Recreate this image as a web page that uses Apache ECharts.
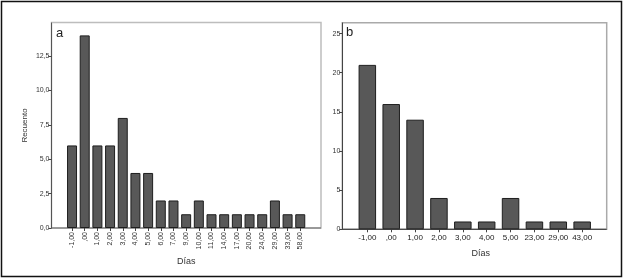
<!DOCTYPE html>
<html>
<head>
<meta charset="utf-8">
<script src="https://cdn.jsdelivr.net/npm/echarts@6/dist/echarts.min.js"></script>
<style>
html,body{margin:0;padding:0;background:#fff;}
#c{width:624px;height:279px;}
</style>
</head>
<body>
<div id="c"></div>
<script>
// Panel a data
const catsA = ['-1,00', ',00', '1,00', '2,00', '3,00', '4,00', '5,00', '6,00', '7,00', '9,00', '10,00', '11,00', '14,00', '17,00', '20,00', '24,00', '29,00', '33,00', '58,00'];
const valsA = [6, 14, 6, 6, 8, 4, 4, 2, 2, 1, 2, 1, 1, 1, 1, 1, 2, 1, 1];
// Panel b data
const catsB = ['-1,00', ',00', '1,00', '2,00', '3,00', '4,00', '5,00', '23,00', '29,00', '43,00'];
const valsB = [21, 16, 14, 4, 1, 1, 4, 1, 1, 1];
// Tick labels
const yTicksA = ['0,0', '2,5', '5,0', '7,5', '10,0', '12,5'];
const yTicksB = ['0', '5', '10', '15', '20', '25'];

const FONT = 'Liberation Sans, Arial, sans-serif';
const chart = echarts.init(document.getElementById('c'));

const barStyle = {color: '#585858', borderColor: '#1e1e1e', borderWidth: 1};

chart.setOption({
  animation: false,
  backgroundColor: '#fff',
  grid: [
    {left: 65.7, right: 317.4, top: 23, bottom: 51},
    {left: 355.4, right: 29.9, top: 23, bottom: 49.7}
  ],
  xAxis: [
    {
      type: 'category', gridIndex: 0, data: catsA,
      axisLine: {show: false},
      axisTick: {show: true, alignWithLabel: true, length: 3, lineStyle: {color: '#444'}},
      axisLabel: {rotate: 90, fontSize: 7, color: '#333', fontFamily: FONT, margin: 4, interval: 0},
      name: 'Días', nameLocation: 'middle', nameGap: 28,
      nameTextStyle: {fontSize: 9, color: '#333', fontFamily: FONT}
    },
    {
      type: 'category', gridIndex: 1, data: catsB,
      axisLine: {show: false},
      axisTick: {show: true, alignWithLabel: true, length: 3, lineStyle: {color: '#444'}},
      axisLabel: {fontSize: 8, color: '#222', fontFamily: FONT, margin: 4, interval: 0},
      name: 'Días', nameLocation: 'middle', nameGap: 20,
      nameTextStyle: {fontSize: 9, color: '#333', fontFamily: FONT, padding: [0, 0, 0, 12]}
    }
  ],
  yAxis: [
    {
      type: 'value', gridIndex: 0, min: 0, max: 14.9, interval: 2.5, offset: 14.2,
      splitLine: {show: false},
      axisLine: {show: true, lineStyle: {color: '#555', width: 1}},
      axisTick: {show: true, length: 3, lineStyle: {color: '#444'}},
      axisLabel: {fontSize: 7, color: '#333', fontFamily: FONT, margin: 2, showMaxLabel: false,
        formatter: (v) => yTicksA[Math.round(v / 2.5)] || ''},
      name: 'Recuento', nameLocation: 'middle', nameGap: 23, nameRotate: 90,
      nameTextStyle: {fontSize: 8, color: '#333', fontFamily: FONT}
    },
    {
      type: 'value', gridIndex: 1, min: 0, max: 26.35, interval: 5, offset: 13,
      splitLine: {show: false},
      axisLine: {show: true, lineStyle: {color: '#444', width: 1}},
      axisTick: {show: true, length: 3, lineStyle: {color: '#444'}},
      axisLabel: {fontSize: 7, color: '#333', fontFamily: FONT, margin: 2, showMaxLabel: false,
        formatter: (v) => yTicksB[Math.round(v / 5)] || ''}
    }
  ],
  series: [
    {type: 'bar', xAxisIndex: 0, yAxisIndex: 0, data: valsA, barWidth: 10, itemStyle: barStyle},
    {type: 'bar', xAxisIndex: 1, yAxisIndex: 1, data: valsB, barWidth: 17.5, itemStyle: barStyle}
  ],
  graphic: [
    {type: 'rect', shape: {x: 1.5, y: 1.5, width: 620, height: 275}, style: {fill: 'none', stroke: '#111', lineWidth: 1.5}, silent: true},
    {type: 'rect', shape: {x: 51.5, y: 22.5, width: 269.5, height: 205.5}, style: {fill: 'none', stroke: '#bdbdbd', lineWidth: 1.5}, silent: true, z: -1},
    {type: 'line', shape: {x1: 51.5, y1: 228, x2: 321, y2: 228}, style: {stroke: '#666', lineWidth: 1}, silent: true},
    {type: 'rect', shape: {x: 342.3, y: 22.7, width: 264.4, height: 206.6}, style: {fill: 'none', stroke: '#aaa', lineWidth: 1.5}, silent: true, z: -1},
    {type: 'line', shape: {x1: 342.3, y1: 229.3, x2: 606.7, y2: 229.3}, style: {stroke: '#333', lineWidth: 1}, silent: true},
    {type: 'text', left: 56, top: 27, style: {text: 'a', fontSize: 13, fill: '#222', fontFamily: FONT}},
    {type: 'text', left: 346, top: 26, style: {text: 'b', fontSize: 13, fill: '#222', fontFamily: FONT}}
  ]
});
</script>
</body>
</html>
